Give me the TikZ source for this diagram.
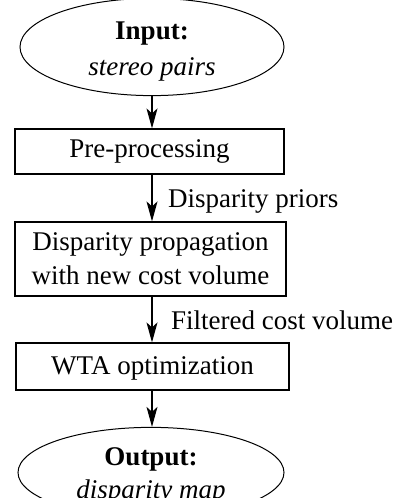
\documentclass[tikz,border=0pt]{standalone}
\usepackage{fontspec}
\setmainfont{Liberation Serif}
\usetikzlibrary{shapes.geometric,arrows.meta}
\begin{document}
\begin{tikzpicture}[x=1pt,y=1pt,
  every node/.style={font=\fontsize{27}{34}\selectfont, inner sep=0pt},
  oval/.style={draw, line width=1pt, ellipse, align=center},
  stepbox/.style={draw, line width=1.2pt, rectangle, align=center},
  flow/.style={draw, line width=1.2pt, -{Stealth[length=20pt,width=11pt,inset=5pt]}},
  lbl/.style={anchor=base west}]
\useasboundingbox (0,0) rectangle (397,-498);
\node[oval, minimum width=264pt, minimum height=71pt, font=\fontsize{27}{36}\selectfont] (in) at (152,-47) {\rule{0pt}{27pt}\textbf{Input:}\\\textit{stereo pairs}};
\node[stepbox, minimum width=269pt, minimum height=45pt] (b1) at (149.5,-151.5) {Pre-processing};
\node[stepbox, minimum width=271pt, minimum height=74pt] (b2) at (150.5,-259) {Disparity propagation\\with new cost volume};
\node[stepbox, minimum width=273pt, minimum height=47pt] (b3) at (152.5,-366.5) {\rule{0pt}{22pt}WTA optimization};
\node[oval, minimum width=266pt, minimum height=71pt, font=\fontsize{27}{33}\selectfont] (out) at (151,-472.5) {\rule{0pt}{25pt}\textbf{Output:}\\\textit{disparity map}};
\coordinate (ax) at (in.south);
\draw[flow] (in.south) -- (ax |- b1.north);
\draw[flow] (ax |- b1.south) -- (ax |- b2.north);
\draw[flow] (ax |- b2.south) -- (ax |- b3.north);
\draw[flow] (ax |- b3.south) -- (ax |- out.north);
\node[lbl] (l1) at (168,-207) {Disparity priors};
\node[lbl] (l2) at (171,-329) {Filtered cost volume};
\end{tikzpicture}
\end{document}
